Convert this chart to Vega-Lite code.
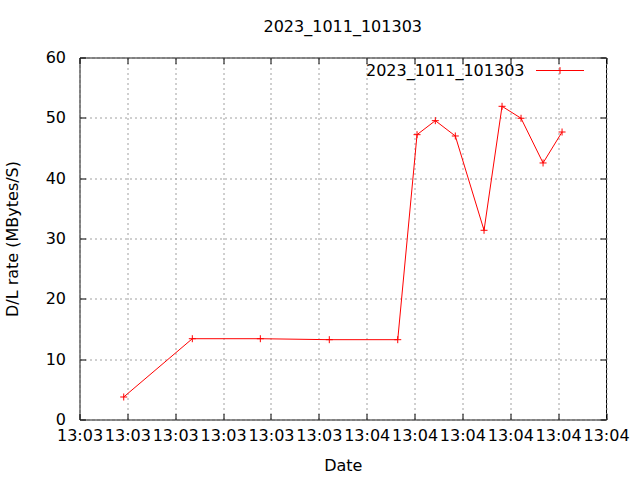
{
  "$schema": "https://vega.github.io/schema/vega-lite/v6.json",
  "autosize": "none",
  "width": 526.5,
  "height": 362,
  "padding": {"left": 79.5, "top": 57.5, "right": 34, "bottom": 60.5},
  "background": "white",
  "title": {"text": "2023_1011_101303", "fontSize": 16, "fontWeight": "normal", "font": "DejaVu Sans", "color": "black", "anchor": "middle", "offset": 11},
  "config": {
    "font": "DejaVu Sans",
    "view": {"stroke": "black", "strokeWidth": 1},
    "axis": {"domain": false, "labelFontSize": 16, "labelColor": "black", "titleFontSize": 16, "titleFontWeight": "normal", "titleColor": "black", "tickColor": "black", "tickSize": -6, "tickWidth": 1, "gridColor": "#a0a0a0", "gridDash": [2, 3], "gridOpacity": 1, "gridWidth": 1}
  },
  "data": {"values": [
    {"time": 9.24, "rate": 3.73, "series": "2023_1011_101303"},
    {"time": 23.57, "rate": 13.39, "series": "2023_1011_101303"},
    {"time": 37.78, "rate": 13.39, "series": "2023_1011_101303"},
    {"time": 52.19, "rate": 13.23, "series": "2023_1011_101303"},
    {"time": 66.49, "rate": 13.23, "series": "2023_1011_101303"},
    {"time": 70.52, "rate": 47.21, "series": "2023_1011_101303"},
    {"time": 74.34, "rate": 49.53, "series": "2023_1011_101303"},
    {"time": 78.52, "rate": 46.99, "series": "2023_1011_101303"},
    {"time": 84.52, "rate": 31.36, "series": "2023_1011_101303"},
    {"time": 88.28, "rate": 51.91, "series": "2023_1011_101303"},
    {"time": 92.25, "rate": 49.93, "series": "2023_1011_101303"},
    {"time": 96.85, "rate": 42.52, "series": "2023_1011_101303"},
    {"time": 100.82, "rate": 47.65, "series": "2023_1011_101303"}
  ]},
  "layer": [
    {
      "mark": {"type": "line", "strokeWidth": 1, "clip": true},
      "encoding": {
        "x": {"field": "time", "type": "quantitative", "title": "Date",
          "scale": {"domain": [0, 110], "nice": false},
          "axis": {"orient": "bottom", "values": [0, 10, 20, 30, 40, 50, 60, 70, 80, 90, 100, 110], "labelExpr": "datum.value < 60 ? '13:03' : '13:04'", "labelPadding": 14, "labelFlush": false, "labelOverlap": false, "titlePadding": 14, "grid": true}},
        "y": {"field": "rate", "type": "quantitative", "title": "D/L rate (MBytes/S)",
          "scale": {"domain": [0, 60], "nice": false},
          "axis": {"orient": "left", "values": [0, 10, 20, 30, 40, 50, 60], "labelPadding": 20, "titlePadding": 25, "grid": true}},
        "color": {"field": "series", "type": "nominal",
          "scale": {"domain": ["2023_1011_101303"], "range": ["#ff0000"]},
          "legend": {"title": null, "orient": "none", "legendX": 456, "legendY": -11.5, "padding": 0,
            "symbolType": "M-1,0H1M0,-0.14V0.14", "symbolSize": 2304, "symbolStrokeWidth": 1, "symbolStrokeColor": "#ff0000", "symbolFillColor": "transparent",
            "labelAlign": "right", "labelOffset": -60, "labelFontSize": 16, "labelFont": "DejaVu Sans", "labelColor": "black", "labelLimit": 400}}
      }
    },
    {
      "mark": {"type": "point", "shape": "M-1,0H1M0,-1V1", "size": 49, "filled": false, "strokeWidth": 1, "opacity": 1},
      "encoding": {
        "x": {"field": "time", "type": "quantitative",
          "axis": {"orient": "top", "title": null, "labels": false, "grid": false, "values": [0, 10, 20, 30, 40, 50, 60, 70, 80, 90, 100, 110]}},
        "y": {"field": "rate", "type": "quantitative",
          "axis": {"orient": "right", "title": null, "labels": false, "grid": false, "values": [0, 10, 20, 30, 40, 50, 60]}},
        "color": {"field": "series", "type": "nominal"}
      }
    }
  ],
  "resolve": {"axis": {"x": "independent", "y": "independent"}}
}
